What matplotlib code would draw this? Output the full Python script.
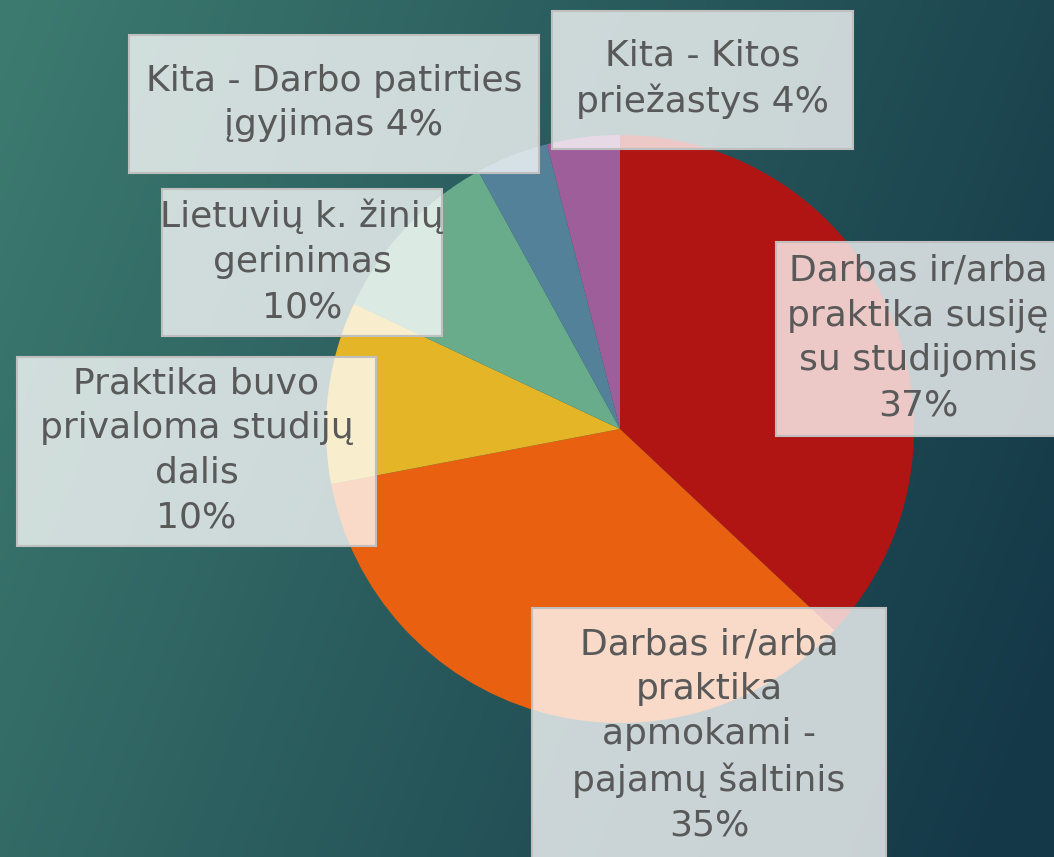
"""Pie chart of reasons for working / internship, recreated with matplotlib."""

import numpy as np
import matplotlib.pyplot as plt
from matplotlib.colors import to_rgb
from matplotlib.patches import Rectangle

W, H = 1054, 857

labels = [
    "Darbas ir/arba\npraktika susiję\nsu studijomis",
    "Darbas ir/arba\npraktika\napmokami -\npajamų šaltinis",
    "Praktika buvo\nprivaloma studijų\ndalis",
    "Lietuvių k. žinių\ngerinimas",
    "Kita - Darbo patirties\nįgyjimas",
    "Kita - Kitos\npriežastys",
]
shares = [37, 35, 10, 10, 4, 4]
pct_sep = ["\n", "\n", "\n", "\n", " ", " "]
colors = ["#b01513", "#e86010", "#e4b526", "#68ac8c", "#528199", "#9d5e99"]

# label boxes in pixel coords: (left, top, right, bottom)
boxes = [
    (776, 242, 1060, 436),
    (532, 608, 886, 864),
    (17, 357, 376, 546),
    (162, 189, 442, 336),
    (129, 35, 539, 173),
    (552, 11, 853, 149),
]

fig = plt.figure(figsize=(W / 100, H / 100), dpi=100)
ax = fig.add_axes([0, 0, 1, 1])

# background gradient, light teal top-left to dark navy right
light = np.array(to_rgb("#3d7b70"))
dark = np.array(to_rgb("#143848"))
xx, yy = np.meshgrid(np.linspace(0, 1, 400), np.linspace(0, 1, 330))
t = np.clip(0.8 * xx + 0.25 * yy, 0, 1)[..., None]
bg = light * (1 - t) + dark * t
ax.imshow(bg, extent=[0, W, 0, H], origin="upper", zorder=0, aspect="auto")

ax.pie(
    shares,
    colors=colors,
    startangle=90,
    counterclock=False,
    center=(620, H - 429),
    radius=294,
    frame=True,
    wedgeprops=dict(linewidth=0),
)
ax.set_xlim(0, W)
ax.set_ylim(0, H)
ax.set_aspect("equal")
ax.axis("off")

for lab, val, sep, (l, tp, r, b) in zip(labels, shares, pct_sep, boxes):
    ax.add_patch(
        Rectangle(
            (l, H - b), r - l, b - tp,
            facecolor=(1, 1, 1, 0.77), edgecolor="#bfbfbf", linewidth=1.5,
            zorder=5,
        )
    )
    ax.text(
        (l + r) / 2, H - (tp + b) / 2 + 1, f"{lab}{sep}{val}%",
        ha="center", va="center", fontsize=26, color="#595959",
        family="DejaVu Sans", linespacing=1.4, zorder=6,
    )

fig.savefig("out.png", dpi=100)
